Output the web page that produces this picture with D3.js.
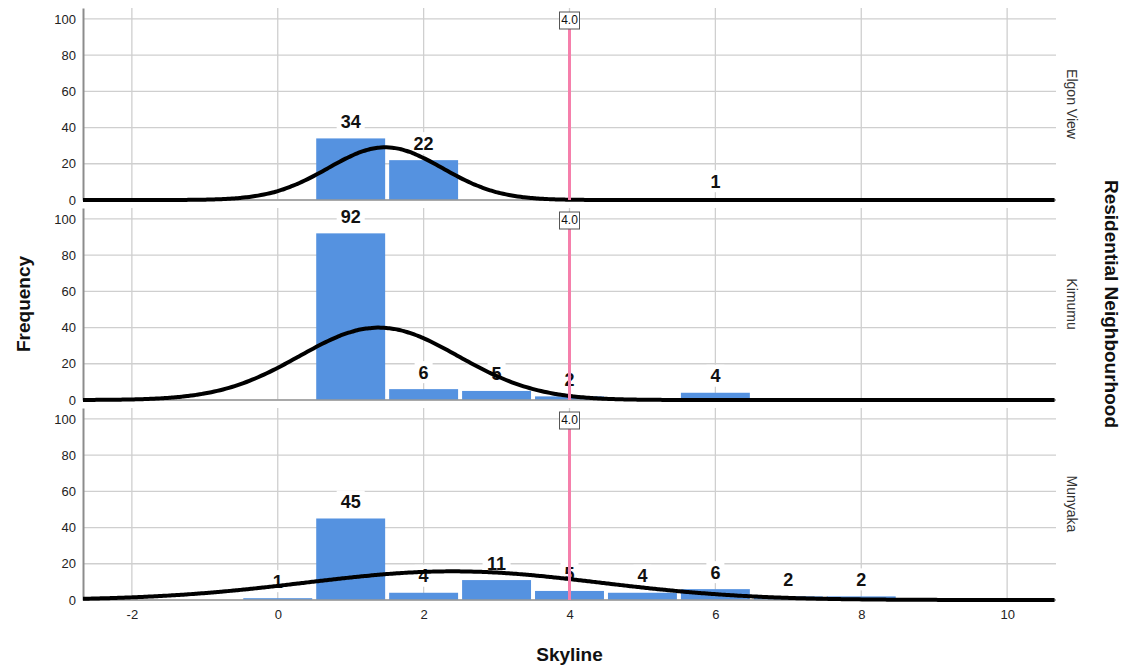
<!DOCTYPE html>
<html>
<head>
<meta charset="utf-8">
<script src="https://cdn.jsdelivr.net/npm/d3@7"></script>
<style>
  body { margin: 0; background: #fff; }
  svg { display: block; font-family: "Liberation Sans", Arial, sans-serif; }
</style>
</head>
<body>
<svg id="chart" width="1130" height="668"></svg>
<script>
// Data
const neighbourhoods = ['Elgon View', 'Kimumu', 'Munyaka'];
const elgonViewSkyline = [1, 2, 6];
const elgonViewCounts = [34, 22, 1];
const kimumuSkyline = [1, 2, 3, 4, 6];
const kimumuCounts = [92, 6, 5, 2, 4];
const munyakaSkyline = [0, 1, 2, 3, 4, 5, 6, 7, 8];
const munyakaCounts = [1, 45, 4, 11, 5, 4, 6, 2, 2];
const xTicks = [-2, 0, 2, 4, 6, 8, 10];
const yTicks = [0, 20, 40, 60, 80, 100];
const refValue = 4.0;

const panels = [
  { name: neighbourhoods[0], xs: elgonViewSkyline, ns: elgonViewCounts },
  { name: neighbourhoods[1], xs: kimumuSkyline, ns: kimumuCounts },
  { name: neighbourhoods[2], xs: munyakaSkyline, ns: munyakaCounts }
];

const svg = d3.select('#chart');
const left = 83, right = 1056;
const panelTop0 = 8, panelStep = 200, panelH = 192;

const x = d3.scaleLinear().domain([-2.67, 10.67]).range([left, right]);
const binW = x(1) - x(0);

const barColor = '#5592e0';
const gridColor = '#cfcfcf';
const refColor = '#f57fab';

panels.forEach((p, i) => {
  const top = panelTop0 + i * panelStep;
  const bottom = top + panelH;
  const y = d3.scaleLinear().domain([0, 106]).range([bottom, top]);
  const g = svg.append('g').attr('class', 'panel');

  // grid
  g.selectAll('line.hgrid').data(yTicks).join('line')
    .attr('class', 'hgrid')
    .attr('x1', left).attr('x2', right)
    .attr('y1', d => y(d)).attr('y2', d => y(d))
    .style('stroke', gridColor).style('stroke-width', 1.3);
  g.selectAll('line.vgrid').data(xTicks).join('line')
    .attr('class', 'vgrid')
    .attr('x1', d => x(d)).attr('x2', d => x(d))
    .attr('y1', top).attr('y2', bottom)
    .style('stroke', gridColor).style('stroke-width', 1.3);

  // y axis
  const yAxis = d3.axisLeft(y).tickValues(yTicks).tickSize(0).tickPadding(7);
  const ya = g.append('g').attr('transform', `translate(${left},0)`).call(yAxis);
  ya.select('.domain').style('stroke', '#8c8c8c').style('stroke-width', 2);
  ya.selectAll('text').style('font-size', '13px').style('fill', '#222');

  // bars
  const data = p.xs.map((v, j) => ({ v, n: p.ns[j] }));
  g.selectAll('rect.bar').data(data).join('rect')
    .attr('class', 'bar')
    .attr('x', d => x(d.v - 0.5) + 2)
    .attr('width', binW - 4)
    .attr('y', d => y(d.n))
    .attr('height', d => y(0) - y(d.n))
    .style('fill', barColor);

  // value labels
  const lab = g.selectAll('g.lab').data(data).join('g')
    .attr('class', 'lab')
    .attr('transform', d => `translate(${x(d.v)},${y(d.n) - 17})`);
  lab.append('rect')
    .attr('x', d => -(String(d.n).length * 10 + 8) / 2)
    .attr('width', d => String(d.n).length * 10 + 8)
    .attr('y', -11).attr('height', 22)
    .style('fill', '#fff');
  lab.append('text')
    .attr('text-anchor', 'middle')
    .attr('dy', '0.36em')
    .style('font-size', '18px').style('font-weight', 'bold')
    .style('fill', '#111')
    .text(d => d.n);

  // normal curve from the counts
  const total = d3.sum(p.ns);
  const mean = d3.sum(data, d => d.v * d.n) / total;
  const sd = Math.sqrt(d3.sum(data, d => d.n * (d.v - mean) ** 2) / (total - 1));
  const pts = d3.range(x.domain()[0], x.domain()[1] + 0.01, 0.04).map(t => [
    t, total / (sd * Math.sqrt(2 * Math.PI)) * Math.exp(-0.5 * ((t - mean) / sd) ** 2)
  ]);
  g.append('line')
    .attr('x1', left).attr('x2', right)
    .attr('y1', y(0)).attr('y2', y(0))
    .style('stroke', '#999').style('stroke-width', 1.5);
  g.append('path')
    .datum(pts)
    .attr('d', d3.line().x(d => x(d[0])).y(d => y(d[1])).curve(d3.curveBasis))
    .style('fill', 'none').style('stroke', '#000').style('stroke-width', 4);

  // reference line
  g.append('line')
    .attr('x1', x(refValue)).attr('x2', x(refValue))
    .attr('y1', top + 4).attr('y2', y(0))
    .style('stroke', refColor).style('stroke-width', 3);
  const rl = g.append('g').attr('transform', `translate(${x(refValue)},${top + 12})`);
  rl.append('rect')
    .attr('x', -10).attr('y', -8).attr('width', 20).attr('height', 17)
    .style('fill', '#fff').style('stroke', '#555').style('stroke-width', 1);
  rl.append('text')
    .attr('text-anchor', 'middle').attr('dy', '0.35em')
    .style('font-size', '12px').style('fill', '#111')
    .text(refValue.toFixed(1));

  // panel label
  svg.append('text')
    .attr('transform', `translate(1067,${(top + bottom) / 2}) rotate(90)`)
    .attr('text-anchor', 'middle')
    .style('font-size', '14px').style('fill', '#333')
    .text(p.name);
});

// x axis
const lastBottom = panelTop0 + 2 * panelStep + panelH;
const xa = svg.append('g').attr('transform', `translate(0,${lastBottom})`)
  .call(d3.axisBottom(x).tickValues(xTicks).tickSize(0).tickPadding(10).tickFormat(d => String(d)));
xa.select('.domain').remove();
xa.selectAll('text').style('font-size', '13px').style('fill', '#222');

// axis titles
svg.append('text')
  .attr('x', (left + right) / 2).attr('y', 661)
  .attr('text-anchor', 'middle')
  .style('font-size', '19px').style('font-weight', 'bold').style('fill', '#111')
  .text('Skyline');
svg.append('text')
  .attr('transform', `translate(30,304) rotate(-90)`)
  .attr('text-anchor', 'middle')
  .style('font-size', '19px').style('font-weight', 'bold').style('fill', '#111')
  .text('Frequency');
svg.append('text')
  .attr('transform', `translate(1105,304) rotate(90)`)
  .attr('text-anchor', 'middle')
  .style('font-size', '19px').style('font-weight', 'bold').style('fill', '#111')
  .text('Residential Neighbourhood');
</script>
</body>
</html>
